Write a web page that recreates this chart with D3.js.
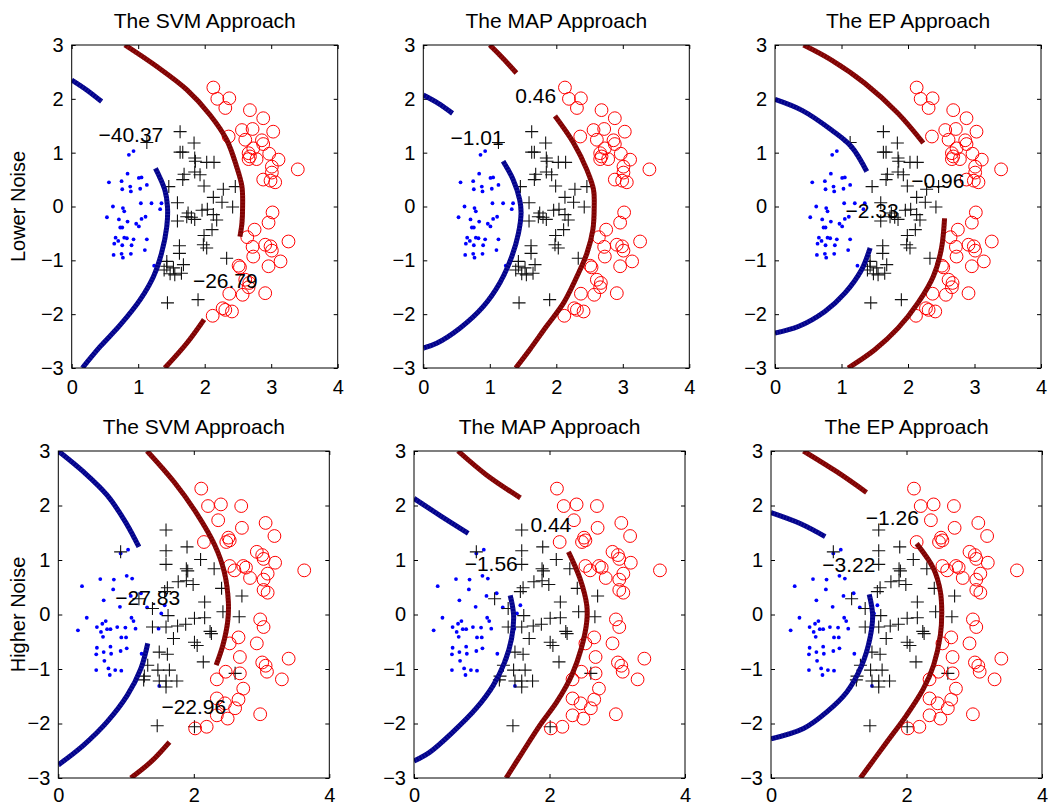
<!DOCTYPE html>
<html><head><meta charset="utf-8">
<script src="https://cdn.jsdelivr.net/npm/d3@7"></script>
<style>body{margin:0;background:#fff} text{font-family:"Liberation Sans",Arial,Helvetica,sans-serif;fill:#000}</style>
</head><body><svg id="c" width="1048" height="807"></svg>
<script>
// ---------------- data ----------------
const titles = ["The SVM Approach", "The MAP Approach", "The EP Approach"];
const rowLabels = ["Lower Noise", "Higher Noise"];
const xTicksLow = [0, 1, 2, 3, 4];
const xTicksHigh = [0, 2, 4];
const yTicks = [-3, -2, -1, 0, 1, 2, 3];

// Lower noise data set
const lowBlue = [[0.93,1.03],[0.86,0.96],[0.56,0.45],[0.75,0.47],[0.84,0.61],[1.01,0.53],[1.05,0.54],[1.13,0.40],[0.88,0.37],[0.76,0.32],[0.89,0.28],[1.03,0.33],[1.20,0.06],[1.04,0.06],[0.62,0.00],[0.77,-0.03],[0.79,-0.09],[1.33,-0.05],[1.35,0.06],[0.53,-0.20],[0.71,-0.24],[0.84,-0.28],[0.97,-0.32],[1.01,-0.37],[1.05,-0.23],[1.11,-0.19],[0.73,-0.39],[0.76,-0.39],[0.66,-0.58],[0.79,-0.58],[0.83,-0.59],[0.93,-0.61],[1.13,-0.61],[0.70,-0.64],[0.76,-0.72],[0.64,-0.69],[0.90,-0.72],[1.10,-0.81],[0.63,-0.90],[0.75,-0.88],[0.77,-0.95],[0.89,-0.88],[1.24,-1.10]];
const lowPlus = [[1.63,1.39],[1.13,1.19],[1.84,1.18],[1.63,1.01],[1.67,1.01],[1.85,0.90],[1.86,0.84],[2.03,0.82],[2.14,0.82],[1.69,0.60],[1.85,0.64],[1.93,0.59],[1.67,0.50],[1.46,0.37],[1.99,0.38],[2.28,0.32],[2.46,0.37],[2.13,0.17],[2.26,0.08],[2.42,-0.01],[1.59,0.07],[1.75,-0.12],[1.59,-0.27],[1.80,-0.20],[1.85,-0.24],[1.73,-0.19],[1.96,-0.07],[2.04,-0.05],[2.13,-0.15],[2.18,-0.25],[2.11,-0.43],[1.99,-0.54],[1.98,-0.71],[2.03,-0.77],[1.62,-0.73],[1.62,-0.87],[2.33,-0.96],[1.43,-1.02],[1.43,-1.11],[1.39,-1.18],[1.53,-1.14],[1.48,-1.25],[1.55,-1.27],[1.65,-1.24],[1.68,-1.08],[1.44,-1.79],[1.90,-1.73]];
const lowCircle = [[2.13,2.21],[2.19,2.00],[2.37,2.01],[2.31,1.83],[2.68,1.79],[2.88,1.64],[2.56,1.42],[2.72,1.44],[3.03,1.39],[2.36,1.30],[2.61,1.24],[2.86,1.23],[2.88,1.16],[2.73,1.08],[2.66,0.99],[2.97,0.98],[2.68,0.93],[2.66,0.88],[2.78,0.88],[3.11,0.87],[3.01,0.74],[3.40,0.69],[3.01,0.63],[2.88,0.50],[2.99,0.48],[3.06,0.45],[3.02,-0.11],[2.96,-0.30],[2.75,-0.43],[2.64,-0.57],[3.26,-0.65],[2.91,-0.71],[2.72,-0.75],[2.99,-0.74],[3.01,-0.82],[2.73,-0.93],[3.14,-1.02],[2.96,-1.11],[2.51,-1.10],[2.53,-1.13],[2.61,-1.36],[2.67,-1.42],[2.66,-1.50],[2.57,-1.64],[2.91,-1.61],[2.37,-1.62],[2.31,-1.92],[2.27,-1.89],[2.41,-1.95],[2.12,-2.03]];

// Higher noise data set
const highBlue = [[1.03,1.19],[0.92,1.12],[0.35,0.52],[0.62,0.65],[0.82,0.64],[1.01,0.71],[1.09,0.66],[0.81,0.46],[0.67,0.26],[0.91,0.14],[1.07,0.34],[1.22,0.39],[1.57,0.17],[1.31,0.13],[1.52,0.02],[0.42,-0.06],[0.29,-0.29],[0.57,-0.23],[0.70,-0.12],[0.65,-0.17],[0.63,-0.32],[0.72,-0.27],[0.77,-0.27],[0.66,-0.41],[0.87,-0.23],[0.99,-0.24],[1.08,-0.06],[1.11,-0.12],[1.14,-0.26],[0.93,-0.42],[1.00,-0.42],[0.57,-0.61],[0.56,-0.73],[0.67,-0.69],[0.77,-0.59],[0.78,-0.72],[0.92,-0.67],[1.01,-0.62],[0.68,-0.85],[0.56,-1.02],[0.74,-0.99],[0.76,-1.11],[0.84,-1.02],[0.93,-1.03],[1.23,-0.72],[1.48,-0.26],[1.49,-1.31]];
const highPlus = [[1.59,1.55],[1.59,1.17],[1.90,1.24],[1.59,0.92],[2.10,1.01],[1.89,0.84],[1.91,0.80],[2.30,0.84],[1.77,0.60],[1.89,0.62],[1.99,0.55],[1.61,0.49],[1.57,0.42],[2.41,0.48],[2.71,0.34],[2.16,0.23],[1.19,0.29],[1.39,0.11],[1.62,-0.02],[1.39,-0.23],[1.59,-0.23],[1.76,-0.21],[1.88,-0.18],[2.01,-0.07],[2.16,-0.06],[2.24,-0.31],[2.26,-0.35],[2.43,0.05],[2.67,-0.04],[1.70,-0.44],[2.01,-0.51],[2.05,-0.57],[2.14,-0.87],[1.49,-0.69],[1.61,-0.73],[1.32,-0.93],[1.27,-1.13],[1.26,-1.20],[1.47,-1.02],[1.64,-1.02],[1.49,-1.22],[1.59,-1.22],[1.75,-1.22],[1.59,-1.33],[2.61,-1.08],[1.46,-2.04],[2.01,-2.06],[0.92,1.15]];
const highCircle = [[2.11,2.31],[2.21,1.99],[2.40,2.02],[2.70,1.99],[2.36,1.73],[2.71,1.59],[3.06,1.68],[3.19,1.44],[2.51,1.41],[2.53,1.36],[2.48,1.33],[2.15,1.33],[2.93,1.15],[3.01,1.09],[3.03,1.02],[3.20,0.95],[2.53,0.89],[2.60,0.81],[2.73,0.89],[2.77,0.86],[2.83,0.67],[3.03,0.64],[3.09,0.75],[3.63,0.81],[3.03,0.45],[3.09,0.40],[2.98,-0.09],[3.03,-0.23],[2.66,-0.42],[2.53,-0.53],[2.93,-0.53],[2.68,-0.78],[3.01,-0.88],[3.06,-0.94],[3.08,-1.05],[3.40,-0.81],[3.30,-1.19],[2.68,-1.08],[2.47,-1.05],[2.34,-1.19],[2.73,-1.36],[2.66,-1.56],[2.34,-1.54],[2.46,-1.63],[2.61,-1.72],[2.34,-1.85],[2.50,-1.91],[2.98,-1.83],[2.19,-2.06],[2.02,-2.09]];

// Contour segments (red = upper boundary, blue = lower boundary)
const svmLowRed  = [[[0.80,3.0],[1.28,2.60],[1.73,2.17],[2.08,1.70],[2.33,1.24],[2.48,0.74],[2.56,0.37],[2.57,0.0],[2.56,-0.31],[2.53,-0.56]], [[1.99,-2.10],[1.73,-2.54],[1.40,-3.0]]];
const svmLowBlue = [[[0,2.35],[0.22,2.17],[0.45,1.95]], [[1.26,0.71],[1.40,0.31],[1.44,0.0],[1.43,-0.37],[1.35,-0.87],[1.23,-1.30],[1.03,-1.73],[0.73,-2.20],[0.43,-2.60],[0.16,-3.0]]];
const mapLowRed  = [[[1.00,3.0],[1.20,2.75],[1.40,2.48]], [[1.98,1.68],[2.26,1.18],[2.46,0.68],[2.56,0.31],[2.57,0.0],[2.55,-0.43],[2.46,-0.87],[2.31,-1.30],[2.11,-1.79],[1.85,-2.23],[1.60,-2.66],[1.39,-3.0]]];
const mapLowBlue = [[[0,2.07],[0.22,1.92],[0.44,1.73]], [[1.20,0.84],[1.35,0.50],[1.45,0.12],[1.47,-0.12],[1.43,-0.50],[1.33,-0.93],[1.15,-1.42],[0.90,-1.86],[0.55,-2.26],[0.20,-2.54],[0,-2.63]]];
const epLowRed   = [[[0.43,3.0],[0.85,2.72],[1.35,2.29],[1.85,1.73],[2.23,1.18]], [[2.55,-0.22],[2.50,-0.80],[2.38,-1.30],[2.15,-1.79],[1.85,-2.26],[1.50,-2.66],[1.10,-3.0]]];
const epLowBlue  = [[[0,1.99],[0.40,1.79],[0.85,1.42],[1.15,1.11],[1.38,0.65]], [[1.43,-0.77],[1.30,-1.18],[1.05,-1.61],[0.75,-1.95],[0.35,-2.23],[0,-2.35]]];
const svmHighRed  = [[[1.31,3.0],[1.71,2.43],[2.06,1.82],[2.31,1.27],[2.45,0.78],[2.51,0.23],[2.50,-0.13],[2.43,-0.56],[2.33,-0.93]], [[1.64,-2.34],[1.37,-2.70],[1.07,-3.0]]];
const svmHighBlue = [[[0,3.0],[0.37,2.62],[0.72,2.19],[0.99,1.70],[1.19,1.24]], [[1.32,-0.53],[1.22,-0.99],[1.02,-1.48],[0.72,-1.97],[0.37,-2.40],[0,-2.76]]];
const mapHighRed  = [[[0.65,3.0],[1.07,2.56],[1.57,2.14]], [[2.28,1.15],[2.45,0.66],[2.55,0.17],[2.55,-0.13],[2.47,-0.62],[2.33,-1.11],[2.11,-1.60],[1.86,-2.03],[1.59,-2.55],[1.36,-3.0]]];
const mapHighBlue = [[[0,2.13],[0.38,1.82],[0.80,1.49]], [[1.42,0.35],[1.47,-0.01],[1.44,-0.44],[1.34,-0.87],[1.17,-1.30],[0.92,-1.72],[0.58,-2.15],[0.24,-2.52],[0,-2.69]]];
const epHighRed   = [[[0.48,3.0],[0.97,2.62],[1.41,2.24]], [[2.15,1.30],[2.40,0.84],[2.50,0.42],[2.52,0.05],[2.50,-0.38],[2.40,-0.93],[2.25,-1.36],[2.00,-1.85],[1.71,-2.34],[1.32,-3.0]]];
const epHighBlue  = [[[0,1.87],[0.43,1.67],[0.80,1.43]], [[1.45,0.37],[1.50,-0.01],[1.46,-0.44],[1.34,-0.93],[1.12,-1.42],[0.82,-1.79],[0.48,-2.09],[0,-2.28]]];

// Contour value labels [text, x, y]
const svmLowLabels  = [["\u221240.37",0.89,1.34],["\u221226.79",2.31,-1.38]];
const mapLowLabels  = [["0.46",1.69,2.07],["\u22121.01",0.81,1.29]];
const epLowLabels   = [["\u22120.96",2.45,0.48],["\u22122.33",1.46,-0.07]];
const svmHighLabels = [["\u221227.83",1.32,0.31],["\u221222.96",2.00,-1.68]];
const mapHighLabels = [["0.44",2.02,1.66],["\u22121.56",1.14,0.94]];
const epHighLabels  = [["\u22121.26",1.79,1.78],["\u22123.22",1.15,0.92]];

// ---------------- layout ----------------
const rowsLayout = [
  {top: 45, bottom: 368, lefts: [71.7, 423.3, 775], width: 266, xTicks: xTicksLow, tickPad: 12},
  {top: 451, bottom: 778, lefts: [58.3, 414, 771], width: 271, xTicks: xTicksHigh, tickPad: 10}
];
const rowData = [
  {blue: lowBlue, plus: lowPlus, circle: lowCircle,
   red: [svmLowRed, mapLowRed, epLowRed], bl: [svmLowBlue, mapLowBlue, epLowBlue],
   labels: [svmLowLabels, mapLowLabels, epLowLabels]},
  {blue: highBlue, plus: highPlus, circle: highCircle,
   red: [svmHighRed, mapHighRed, epHighRed], bl: [svmHighBlue, mapHighBlue, epHighBlue],
   labels: [svmHighLabels, mapHighLabels, epHighLabels]}
];

const svg = d3.select("#c");
const FS = 20;
const fmt = d3.format("d");

rowsLayout.forEach((L, r) => {
  const D = rowData[r];
  // row label
  svg.append("text")
    .attr("transform", `translate(25,${(L.top + L.bottom) / 2}) rotate(-90)`)
    .attr("text-anchor", "middle")
    .style("font-size", FS + "px")
    .text(rowLabels[r]);

  L.lefts.forEach((left, c) => {
    const x = d3.scaleLinear().domain([0, 4]).range([left, left + L.width]);
    const y = d3.scaleLinear().domain([-3, 3]).range([L.bottom, L.top]);
    const g = svg.append("g");
    const cid = `clip${r}${c}`;
    g.append("clipPath").attr("id", cid).append("rect")
      .attr("x", x(0)).attr("y", y(3)).attr("width", x(4) - x(0)).attr("height", y(-3) - y(3));

    // title
    g.append("text").attr("x", (x(0) + x(4)) / 2).attr("y", L.top - 17)
      .attr("text-anchor", "middle").style("font-size", "21px").text(titles[c]);

    // axes (ticks inward)
    const ax = [
      d3.axisBottom(x).tickValues(L.xTicks).tickSizeInner(-4).tickSizeOuter(0).tickPadding(L.tickPad).tickFormat(fmt),
      d3.axisTop(x).tickValues(L.xTicks).tickSizeInner(-4).tickSizeOuter(0).tickFormat(""),
      d3.axisLeft(y).tickValues(yTicks).tickSizeInner(-4).tickSizeOuter(0).tickPadding(8).tickFormat(fmt),
      d3.axisRight(y).tickValues(yTicks).tickSizeInner(-4).tickSizeOuter(0).tickFormat("")
    ];
    const pos = [`translate(0,${y(-3)})`, `translate(0,${y(3)})`, `translate(${x(0)},0)`, `translate(${x(4)},0)`];
    ax.forEach((a, i) => {
      const ag = g.append("g").attr("transform", pos[i]).call(a);
      ag.select(".domain").remove();
      ag.selectAll("text").style("font-size", FS + "px").attr("fill", "#000")
        .style("font-family", '"Liberation Sans",Arial,sans-serif');
      ag.selectAll("line").attr("stroke", "#000");
    });

    const pg = g.append("g").attr("clip-path", `url(#${cid})`);
    // blue dots
    pg.selectAll(".bd").data(D.blue).join("circle")
      .attr("cx", d => x(d[0])).attr("cy", d => y(d[1])).attr("r", 1.9).attr("fill", "#0000ff");
    // plus
    pg.selectAll(".pl").data(D.plus).join("path")
      .attr("d", d => `M${x(d[0]) - 6.5},${y(d[1])}H${x(d[0]) + 6.5}M${x(d[0])},${y(d[1]) - 6.5}V${y(d[1]) + 6.5}`)
      .attr("stroke", "#111").attr("stroke-width", 1.1).attr("fill", "none");
    // circles
    pg.selectAll(".rc").data(D.circle).join("circle")
      .attr("cx", d => x(d[0])).attr("cy", d => y(d[1])).attr("r", 6.4)
      .attr("fill", "none").attr("stroke", "#ff0000").attr("stroke-width", 1);

    // contours
    const line = d3.line().x(d => x(d[0])).y(d => y(d[1])).curve(d3.curveCatmullRom.alpha(0.5));
    const drawSegs = (segs, base, hi) => {
      segs.forEach(s => {
        pg.append("path").attr("d", line(s)).attr("fill", "none")
          .attr("stroke", base).attr("stroke-width", 5);
        pg.append("path").attr("d", line(s)).attr("fill", "none")
          .attr("stroke", hi).attr("stroke-width", 5).attr("stroke-dasharray", "1,2.2").attr("opacity", 0.5);
      });
    };
    drawSegs(D.bl[c], "#00008c", "#3a3aa8");
    drawSegs(D.red[c], "#800000", "#a03030");

    // labels
    g.selectAll(".lb").data(D.labels[c]).join("text")
      .attr("x", d => x(d[1])).attr("y", d => y(d[2])).attr("dy", "0.36em")
      .attr("text-anchor", "middle").style("font-size", "21px").text(d => d[0]);

    // box
    g.append("rect").attr("x", x(0)).attr("y", y(3)).attr("width", x(4) - x(0)).attr("height", y(-3) - y(3))
      .attr("fill", "none").attr("stroke", "#000").attr("stroke-width", 1);
  });
});
</script></body></html>
